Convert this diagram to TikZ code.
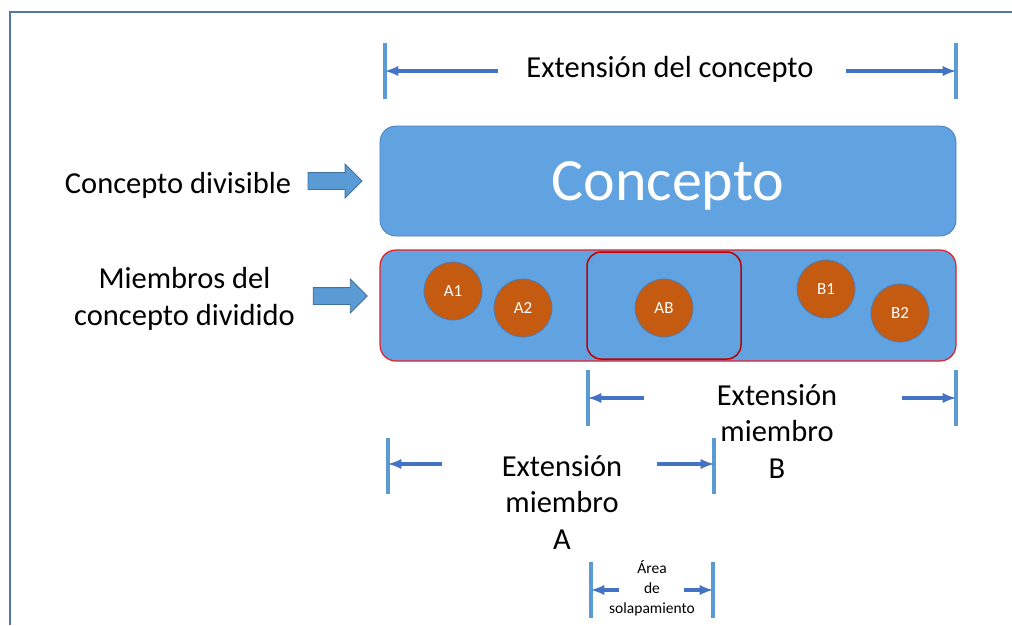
\documentclass[tikz,border=0pt]{standalone}
\usepackage{fontspec}
\setmainfont{Carlito}
\usepackage{xcolor}
\usetikzlibrary{shapes.arrows,arrows,positioning}
\definecolor{azulconcepto}{RGB}{97,162,224}
\definecolor{bordeazul}{RGB}{74,126,187}
\definecolor{azulcota}{RGB}{91,155,213}
\definecolor{azulflecha}{RGB}{68,114,196}
\definecolor{azulbloque}{RGB}{91,155,213}
\definecolor{bordebloque}{RGB}{65,113,156}
\definecolor{rojo}{RGB}{237,28,36}
\definecolor{rojooscuro}{RGB}{192,0,0}
\definecolor{naranja}{RGB}{197,90,17}
\definecolor{marco}{RGB}{84,120,165}

\begin{document}
\begin{tikzpicture} [
      x = 1pt, y = -1pt,
      every node/.style = { inner sep = 0 },
      caja/.style = { draw = bordeazul, line width = 0.8pt, fill = azulconcepto, rounded corners = 16pt, minimum width = 576pt },
      miembro/.style = { circle, draw = bordeazul, line width = 0.8pt, fill = naranja, minimum size = 58pt, text = white, font = \fontsize{17}{20}\selectfont },
      etiqueta/.style = { align = center, font = \fontsize{30.5}{36.5}\selectfont },
      cota/.style = { draw = azulcota, line width = 3.5pt },
      flecha/.style = { draw = azulflecha, line width = 3.5pt, -latex },
      bloque/.style = { single arrow, draw = bordebloque, line width = 0.8pt, fill = azulbloque, inner ysep = 8pt, minimum height = 54pt, single arrow head extend = 8.5pt }
      ]
  \useasboundingbox (0,0) rectangle (1012,625);
  \draw [marco, line width = 1.5pt] (1012,12) -- (10,12) -- (10,625);

  % cajas
  \node [caja, minimum height = 110pt, text = white, text depth = 0pt, font = \fontsize{60}{72}\selectfont] (concepto) at (668,181) {Concepto};
  \node [caja, draw = rojo, line width = 1.2pt, minimum height = 111pt] (miembros) at (668,305.5) {};
  \node [draw = rojooscuro, line width = 1.5pt, rounded corners = 14pt, minimum width = 154pt, minimum height = 107pt] (solape) at (664,305.5) {};

  \node [miembro] (a1) at (453,291) {A1};
  \node [miembro] (a2) at (523,308) {A2};
  \node [miembro] (ab) at (664,308) {AB};
  \node [miembro] (b1) at (826,289) {B1};
  \node [miembro] (b2) at (900,313) {B2};

  % etiquetas de la izquierda
  \node [etiqueta] (divisible) at (178,185.5) {Concepto divisible};
  \node [etiqueta] (dividido) at (184.5,299) {Miembros del\\concepto dividido};
  \node [bloque, left = 17pt of concepto] (fdivisible) {};
  \node [bloque] (fdividido) at (336,296) {};

  % cotas
  \coordinate (cI) at (385,71);   \coordinate (cIa) at (498,71);
  \coordinate (cD) at (956,71);   \coordinate (cDa) at (846,71);
  \coordinate (bI) at (588,398);  \coordinate (bIa) at (644,398);
  \coordinate (bD) at (956,398);  \coordinate (bDa) at (902,398);
  \coordinate (aI) at (388,466);  \coordinate (aIa) at (442,464);
  \coordinate (aD) at (714,466);  \coordinate (aDa) at (657,464);
  \coordinate (sI) at (591,590);  \coordinate (sIa) at (619,590);
  \coordinate (sD) at (713,590);  \coordinate (sDa) at (684,590);

  \foreach \c in {cI,cD,bI,bD,aI,aD,sI,sD}
    \draw [cota] ([yshift = 28pt]\c) -- ([yshift = -28pt]\c);
  \draw [flecha] (cIa) -- (cI |- cIa);
  \draw [flecha] (cDa) -- (cD |- cDa);
  \draw [flecha] (bIa) -- (bI |- bIa);
  \draw [flecha] (bDa) -- (bD |- bDa);
  \draw [flecha] (aIa) -- (aI |- aIa);
  \draw [flecha] (aDa) -- (aD |- aDa);
  \draw [flecha] (sIa) -- (sI |- sIa);
  \draw [flecha] (sDa) -- (sD |- sDa);

  \node [etiqueta] (extconcepto) at (670,69) {Extensión del concepto};
  \node [etiqueta] (extb) at (777,431) {Extensión\\miembro\\B};
  \node [etiqueta] (exta) at (562,502) {Extensión\\miembro\\A};
  \node [align = center, font = \fontsize{15.5}{20}\selectfont] (solapamiento) at (652,588) {Área\\de\\solapamiento};
\end{tikzpicture}
\end{document}
